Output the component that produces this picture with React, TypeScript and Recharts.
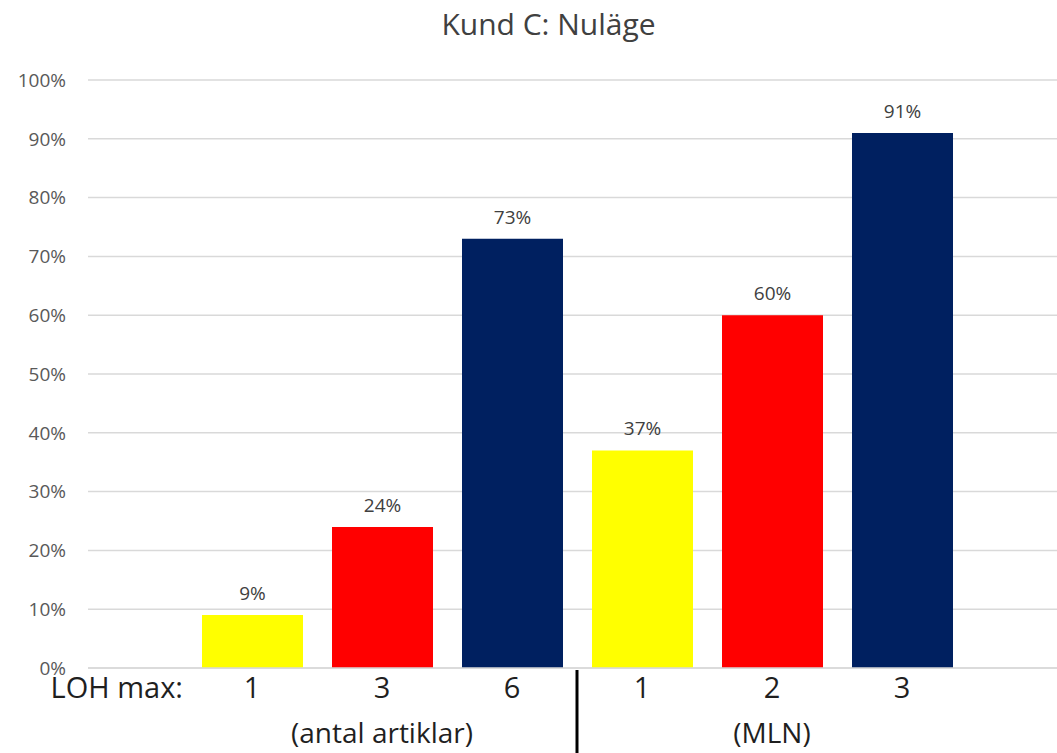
import { BarChart, Bar, XAxis, YAxis, CartesianGrid, Cell, LabelList } from 'recharts'

// LOH max levels along the x axis, split into two groups
const lohLevels = ['1', '3', '6', '1', '2', '3']
const groupOf = [0, 0, 0, 1, 1, 1]
const groupLabels = ['(antal artiklar)', '(MLN)']

// share per level, in percent
const shares = [9, 24, 73, 37, 60, 91]
const barColors = ['#FFFF00', '#FF0000', '#002060', '#FFFF00', '#FF0000', '#002060']

const yTicks = [0, 10, 20, 30, 40, 50, 60, 70, 80, 90, 100]

const CHART_W = 1057
const CHART_H = 753
const Y_AXIS_W = 88
const PAD_L = 99
const PAD_R = 90
const BAND = (CHART_W - Y_AXIS_W - PAD_L - PAD_R) / shares.length

const FONT = '"Open Sans", "Segoe UI", sans-serif'

const data = shares.map((v, i) => ({
  id: `c${i}`,
  level: lohLevels[i],
  group: groupOf[i],
  value: v,
}))

function CategoryTick(props: any) {
  const { x, y, index } = props
  const g = groupOf[index]
  const members = groupOf.map((gg, i) => (gg === g ? i : -1)).filter(i => i >= 0)
  const isMiddle = members[Math.floor(members.length / 2)] === index
  const isLastOfGroup = members[members.length - 1] === index && index < groupOf.length - 1
  return (
    <g>
      {index === 0 && (
        <text x={x - BAND * 1.04} y={y + 30} textAnchor="middle" fontSize={29} fill="#1f1f1f" fontFamily={FONT}>
          LOH max:
        </text>
      )}
      <text x={x} y={y + 30} textAnchor="middle" fontSize={29} fill="#1f1f1f" fontFamily={FONT}>
        {lohLevels[index]}
      </text>
      {isMiddle && (
        <text x={x} y={y + 75} textAnchor="middle" fontSize={28} fill="#1f1f1f" fontFamily={FONT}>
          {groupLabels[g]}
        </text>
      )}
      {isLastOfGroup && (
        <line x1={x + BAND / 2} x2={x + BAND / 2} y1={y + 2} y2={CHART_H} stroke="#000" strokeWidth={3} />
      )}
    </g>
  )
}

export default function App() {
  return (
    <div style={{ position: 'absolute', left: 0, top: 0, width: CHART_W, height: CHART_H, background: '#fff' }}>
      <div style={{
        position: 'absolute', left: 0, right: 0, top: 3, paddingLeft: 40, textAlign: 'center',
        fontFamily: FONT, fontSize: 30, color: '#404040',
      }}>
        Kund C: Nuläge
      </div>
      <BarChart
        width={CHART_W}
        height={CHART_H}
        data={data}
        margin={{ top: 80, right: 0, bottom: 0, left: 0 }}
      >
        <CartesianGrid vertical={false} stroke="#d9d9d9" strokeWidth={1.5} />
        <YAxis
          width={Y_AXIS_W}
          domain={[0, 100]}
          ticks={yTicks}
          tickFormatter={(v: number) => `${v}%`}
          axisLine={false}
          tickLine={false}
          tickSize={0}
          tickMargin={22}
          tick={{ fontSize: 19, fill: '#595959', fontFamily: FONT }}
        />
        <XAxis
          dataKey="id"
          height={CHART_H - 668}
          padding={{ left: PAD_L, right: PAD_R }}
          axisLine={{ stroke: '#d9d9d9', strokeWidth: 1.5 }}
          tickLine={false}
          tickSize={0}
          tickMargin={0}
          interval={0}
          tick={<CategoryTick />}
        />
        <Bar dataKey="value" barSize={101} isAnimationActive={false}>
          {data.map((d, i) => (
            <Cell key={d.id} fill={barColors[i]} />
          ))}
          <LabelList
            dataKey="value"
            position="top"
            offset={15}
            formatter={(v: any) => `${v}%`}
            style={{ fontSize: 19, fill: '#404040', fontFamily: FONT }}
          />
        </Bar>
      </BarChart>
    </div>
  )
}
